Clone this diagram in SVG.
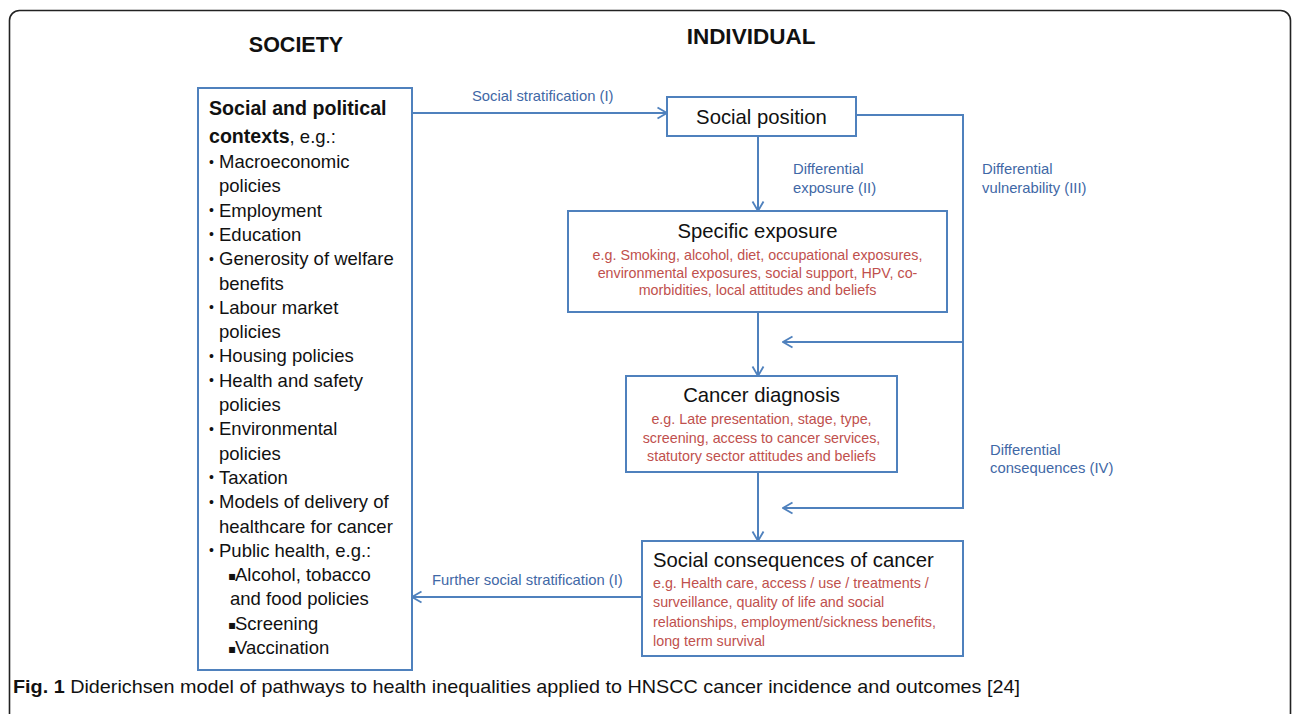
<svg xmlns="http://www.w3.org/2000/svg" width="1292" height="714" viewBox="0 0 1292 714">
<style>
.box{fill:#fff;stroke:#4F81BD;stroke-width:2}
.ln{fill:none;stroke:#4F81BD;stroke-width:2}
.ttl{font-family:"Liberation Sans",Arial,sans-serif;font-size:20.3px;fill:#111}
.red{font-family:"Liberation Sans",Arial,sans-serif;font-size:14.3px;fill:#C0504D}
.blu{font-family:"Liberation Sans",Arial,sans-serif;font-size:14.8px;fill:#3F68A6}
.lt{font-family:"Liberation Sans",Arial,sans-serif;font-size:18.5px;fill:#111}
.hd{font-family:"Liberation Sans",Arial,sans-serif;font-size:21.5px;font-weight:bold;fill:#111}
.bul{font-family:"Liberation Sans",Arial,sans-serif;font-size:14px;fill:#111}
.sq{font-family:"DejaVu Sans",sans-serif;font-size:12px;fill:#111}
</style>
<defs>
<marker id="arr" markerUnits="userSpaceOnUse" markerWidth="14" markerHeight="14" viewBox="0 0 14 14" refX="12.5" refY="7" orient="auto">
<path d="M3,1.5 L12.5,7 L3,12.5" fill="none" stroke="#4F81BD" stroke-width="1.8"/>
</marker>
</defs>
<rect x="9.5" y="10.5" width="1281" height="730" rx="10" fill="#fff" stroke="#222" stroke-width="1.6"/>
<text class="hd" x="296" y="52" text-anchor="middle">SOCIETY</text>
<text class="hd" x="751" y="44" text-anchor="middle" style="font-size:22.5px">INDIVIDUAL</text>

<g id="connectors">
<line class="ln" x1="412" y1="113" x2="667" y2="113" marker-end="url(#arr)"/>
<polyline class="ln" points="856,115 963,115 963,508 783,508" marker-end="url(#arr)"/>
<line class="ln" x1="963" y1="342" x2="783" y2="342" marker-end="url(#arr)"/>
<line class="ln" x1="758" y1="136" x2="758" y2="211" marker-end="url(#arr)"/>
<line class="ln" x1="758" y1="312" x2="758" y2="376" marker-end="url(#arr)"/>
<line class="ln" x1="758" y1="472" x2="758" y2="541" marker-end="url(#arr)"/>
<line class="ln" x1="642" y1="597" x2="412" y2="597" marker-end="url(#arr)"/>
<text class="blu" x="472" y="101">Social stratification (I)</text>
<text class="blu" x="793" y="174">Differential</text>
<text class="blu" x="793" y="193">exposure (II)</text>
<text class="blu" x="982" y="174">Differential</text>
<text class="blu" x="982" y="193">vulnerability (III)</text>
<text class="blu" x="990" y="455">Differential</text>
<text class="blu" x="990" y="473">consequences (IV)</text>
<text class="blu" x="432" y="585">Further social stratification (I)</text>
</g>

<g id="society">
<rect class="box" x="198" y="88" width="214" height="582"/>
<text class="lt" x="209" y="115" style="font-weight:bold;font-size:19.6px">Social and political</text>
<text class="lt" x="209" y="143"><tspan style="font-weight:bold;font-size:19.6px">contexts</tspan>, e.g.:</text>
<g class="bul">
<text x="209" y="166.5">•</text>
<text x="209" y="215.1">•</text>
<text x="209" y="239.4">•</text>
<text x="209" y="263.7">•</text>
<text x="209" y="312.3">•</text>
<text x="209" y="360.9">•</text>
<text x="209" y="385.2">•</text>
<text x="209" y="433.8">•</text>
<text x="209" y="482.4">•</text>
<text x="209" y="506.7">•</text>
<text x="209" y="555.3">•</text>
</g>
<g class="sq">
<text x="228" y="580">▪</text>
<text x="228" y="628.6">▪</text>
<text x="228" y="652.9">▪</text>
</g>
<text class="lt" x="219" y="168">Macroeconomic</text>
<text class="lt" x="219" y="192.3">policies</text>
<text class="lt" x="219" y="216.6">Employment</text>
<text class="lt" x="219" y="240.9">Education</text>
<text class="lt" x="219" y="265.2">Generosity of welfare</text>
<text class="lt" x="219" y="289.5">benefits</text>
<text class="lt" x="219" y="313.8">Labour market</text>
<text class="lt" x="219" y="338.1">policies</text>
<text class="lt" x="219" y="362.4">Housing policies</text>
<text class="lt" x="219" y="386.7">Health and safety</text>
<text class="lt" x="219" y="411">policies</text>
<text class="lt" x="219" y="435.3">Environmental</text>
<text class="lt" x="219" y="459.6">policies</text>
<text class="lt" x="219" y="483.9">Taxation</text>
<text class="lt" x="219" y="508.2">Models of delivery of</text>
<text class="lt" x="219" y="532.5">healthcare for cancer</text>
<text class="lt" x="219" y="556.8">Public health, e.g.:</text>
<text class="lt" x="235" y="581.1">Alcohol, tobacco</text>
<text class="lt" x="230" y="605.4">and food policies</text>
<text class="lt" x="235" y="629.7">Screening</text>
<text class="lt" x="235" y="654">Vaccination</text>
</g>

<g id="social-position">
<rect class="box" x="667" y="97" width="189" height="39"/>
<text class="ttl" x="761.5" y="124" text-anchor="middle">Social position</text>
</g>

<g id="specific-exposure">
<rect class="box" x="568" y="211" width="379" height="101"/>
<text class="ttl" x="757.5" y="238" text-anchor="middle">Specific exposure</text>
<text class="red" x="757.5" y="260" text-anchor="middle">e.g. Smoking, alcohol, diet, occupational exposures,</text>
<text class="red" x="757.5" y="277.5" text-anchor="middle">environmental exposures, social support, HPV, co-</text>
<text class="red" x="757.5" y="295" text-anchor="middle">morbidities, local attitudes and beliefs</text>
</g>

<g id="cancer-diagnosis">
<rect class="box" x="626" y="376" width="271" height="96"/>
<text class="ttl" x="761.5" y="402" text-anchor="middle">Cancer diagnosis</text>
<text class="red" x="761.5" y="424" text-anchor="middle">e.g. Late presentation, stage, type,</text>
<text class="red" x="761.5" y="442.5" text-anchor="middle">screening, access to cancer services,</text>
<text class="red" x="761.5" y="461" text-anchor="middle">statutory sector attitudes and beliefs</text>
</g>

<g id="social-consequences">
<rect class="box" x="642" y="541" width="321" height="115"/>
<text class="ttl" x="653" y="567">Social consequences  of cancer</text>
<text class="red" x="653" y="588">e.g. Health care, access / use / treatments  /</text>
<text class="red" x="653" y="607">surveillance, quality of life and social</text>
<text class="red" x="653" y="627">relationships, employment/sickness benefits,</text>
<text class="red" x="653" y="646">long term survival</text>
</g>

<text x="13" y="693" textLength="1007" lengthAdjust="spacingAndGlyphs" style="font-family:'Liberation Sans',Arial,sans-serif;font-size:19px;fill:#111"><tspan font-weight="bold">Fig. 1</tspan> Diderichsen model of pathways to health inequalities applied to HNSCC cancer incidence and outcomes [24]</text>
</svg>
